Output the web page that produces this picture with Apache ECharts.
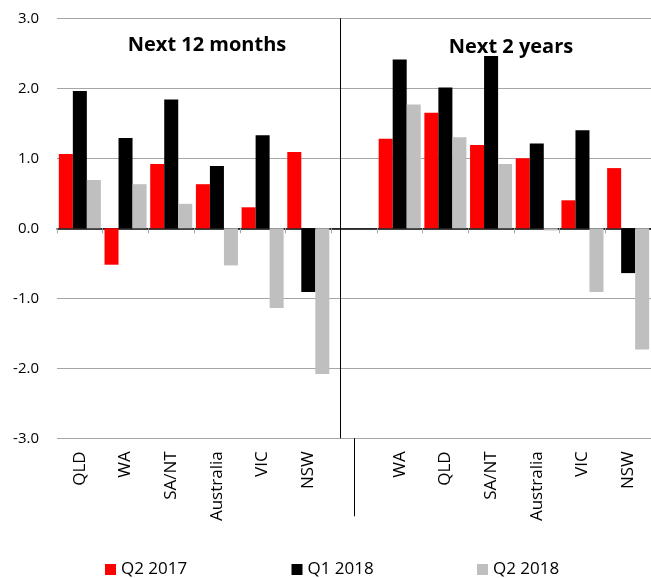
<!DOCTYPE html>
<html>
<head>
<meta charset="utf-8">
<script src="https://cdn.jsdelivr.net/npm/echarts@6/dist/echarts.min.js"></script>
<style>
  html, body { margin: 0; padding: 0; background: #fff; }
  #chart { width: 651px; height: 578px; }
</style>
</head>
<body>
<div id="chart"></div>
<script>
  // categories: two panels, index 6 is the empty gap holding the divider
  var categories = ['QLD', 'WA', 'SA/NT', 'Australia', 'VIC', 'NSW', '',
                    'WA', 'QLD', 'SA/NT', 'Australia', 'VIC', 'NSW'];
  var q2_2017 = [1.06, -0.52, 0.92, 0.63, 0.30, 1.09, null,
                 1.28, 1.65, 1.19, 1.00, 0.40, 0.86];
  var q1_2018 = [1.96, 1.29, 1.84, 0.89, 1.33, -0.91, null,
                 2.41, 2.01, 2.46, 1.21, 1.40, -0.64];
  var q2_2018 = [0.69, 0.63, 0.35, -0.53, -1.14, -2.08, null,
                 1.77, 1.30, 0.92, -0.03, -0.91, -1.73];
  var seriesNames = ['Q2 2017', 'Q1 2018', 'Q2 2018'];
  var panelTitles = ['Next 12 months', 'Next 2 years'];
  var gapIndex = 6;

  var FONT = '"Open Sans", "Noto Sans", sans-serif';
  var GRID_C = '#a6a6a6';

  function bar(name, color, arr) {
    return {
      name: name,
      type: 'bar',
      xAxisIndex: 0,
      barGap: '0%',
      barCategoryGap: '8%',
      itemStyle: { color: color },
      data: arr
    };
  }

  var series = [
    bar(seriesNames[0], '#ff0000', q2_2017),
    bar(seriesNames[1], '#000000', q1_2018),
    bar(seriesNames[2], '#bfbfbf', q2_2018)
  ];
  // panel divider through the gap category
  series[0].markLine = {
    silent: true,
    animation: false,
    symbol: ['none', 'none'],
    label: { show: false },
    lineStyle: { color: '#000', width: 1, type: 'solid' },
    data: [{ xAxis: gapIndex }]
  };

  // one legend per item so each sits where the original has it
  var legendLeft = [100, 286.5, 472];
  var legends = seriesNames.map(function (n, i) {
    return {
      left: legendLeft[i],
      top: 556,
      icon: 'rect',
      itemWidth: 11,
      itemHeight: 11,
      textStyle: { fontFamily: FONT, fontSize: 17, color: '#000' },
      data: [n]
    };
  });

  var chart = echarts.init(document.getElementById('chart'));
  chart.setOption({
    animation: false,
    textStyle: { fontFamily: FONT, color: '#000' },
    title: [
      { text: panelTitles[0], left: 202, top: 30, textAlign: 'center',
        textStyle: { fontFamily: FONT, fontSize: 20, fontWeight: 'bold', color: '#000' } },
      { text: panelTitles[1], left: 506, top: 32, textAlign: 'center',
        textStyle: { fontFamily: FONT, fontSize: 20, fontWeight: 'bold', color: '#000' } }
    ],
    legend: legends,
    grid: { left: 57, right: 0, top: 18.3, bottom: 139.7 },
    xAxis: [
      {
        type: 'category',
        data: categories,
        axisLine: { onZero: true, lineStyle: { color: '#000', width: 1.5 } },
        axisTick: { show: true, interval: 0, length: 5, lineStyle: { color: GRID_C } },
        axisLabel: { show: false },
        splitLine: { show: false }
      },
      {
        type: 'category',
        data: categories,
        position: 'bottom',
        axisLine: { show: false, onZero: false },
        axisTick: {
          show: true,
          alignWithLabel: true,
          length: 78,
          interval: function (i) { return i === gapIndex; },
          lineStyle: { color: '#000', width: 1 }
        },
        axisLabel: {
          interval: 0,
          rotate: 90,
          margin: 13,
          fontFamily: FONT,
          fontSize: 17,
          color: '#000'
        },
        splitLine: { show: false }
      }
    ],
    yAxis: {
      type: 'value',
      min: -3,
      max: 3,
      interval: 1,
      axisLine: { show: false },
      axisTick: { show: false },
      axisLabel: {
        margin: 18,
        fontFamily: FONT,
        fontSize: 15,
        color: '#000',
        formatter: function (v) { return v.toFixed(1); }
      },
      splitLine: { lineStyle: { color: GRID_C, width: 1 } }
    },
    series: series
  });
</script>
</body>
</html>
